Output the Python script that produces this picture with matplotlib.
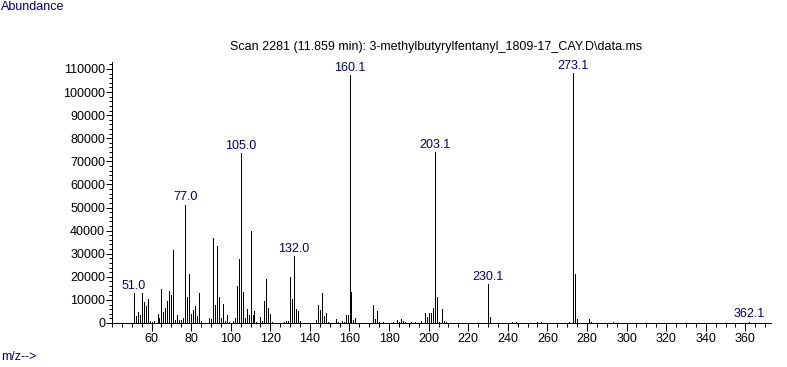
import matplotlib
matplotlib.use('Agg')
import matplotlib.pyplot as plt
from matplotlib.ticker import MultipleLocator

# m/z values of the spectrum lines and their abundance
MZ = [51.0, 52, 53, 54, 55, 56, 57, 58, 59, 60, 61, 63, 64, 65, 66, 67, 68, 69, 70, 71,
      72, 73, 74, 75, 76, 77.0, 78, 79, 80, 81, 82, 83, 84, 85,
      89, 90, 91, 92, 93, 94, 95, 96, 97, 98, 99, 101, 102, 103, 104, 105.0,
      106, 107, 108, 109, 110, 111, 112, 113, 115, 116, 117, 118, 119, 120, 121,
      127, 128, 129, 130, 131, 132.0, 133, 134, 135,
      143, 144, 145, 146, 147, 148, 149, 153, 154, 156, 157, 158, 159, 160.1,
      161, 162, 163, 172, 173, 174, 175, 177, 182, 184, 185, 186, 187, 188,
      191, 193, 196, 198, 199, 200, 201, 202, 203.1, 204, 205, 207, 208, 209,
      230.1, 231, 242, 244, 255, 257, 271, 273.1, 274, 275, 281, 282, 293, 362.1]
ABUND = [13000, 3200, 4900, 3600, 13000, 9100, 7500, 10500, 900, 500, 1000, 4000, 2300, 14900, 4900, 6600, 9700, 14000, 12300, 31700,
         1400, 3600, 1400, 1400, 2300, 51200, 11400, 21300, 4000, 5800, 7500, 2900, 13100, 900,
         2300, 1900, 37000, 7900, 33500, 11400, 2300, 8400, 1000, 3600, 500, 900, 2200, 16000, 27700, 73600,
         13400, 2100, 6100, 3500, 39800, 3500, 5200, 600, 2600, 900, 9600, 19000, 6600, 4000, 500,
         500, 900, 900, 20000, 10400, 29000, 6000, 5200, 900,
         1300, 7800, 5600, 13100, 3000, 4300, 400, 1600, 400, 900, 400, 3500, 3500, 107400,
         13400, 1500, 2300, 7800, 1800, 5200, 400, 400, 400, 1300, 400, 1700, 900, 400,
         400, 400, 900, 4300, 2700, 4300, 4300, 6500, 74000, 11300, 400, 6100, 900, 400,
         16900, 2600, 400, 400, 400, 400, 400, 108300, 21300, 1700, 1700, 400, 400, 560]

LABELED = [51.0, 77.0, 105.0, 132.0, 160.1, 203.1, 230.1, 273.1, 362.1]

TITLE = "Scan 2281 (11.859 min): 3-methylbutyrylfentanyl_1809-17_CAY.D\\data.ms"
NAVY = '#000080'

plt.rcParams['font.family'] = ['Liberation Sans', 'DejaVu Sans']
plt.rcParams['font.size'] = 9

fig = plt.figure(figsize=(7.87, 3.67), dpi=100)
ax = fig.add_axes([0.1423, 0.1199, 0.8374, 0.711])

# 1 px 的線條
ax.vlines(MZ, 0, ABUND, colors='black', linewidth=0.72, antialiased=False)

abund_of = dict(zip(MZ, ABUND))
for m in LABELED:
    ax.annotate(f"{m:.1f}", (m, abund_of[m]), xytext=(0, 1), textcoords='offset points',
                ha='center', va='bottom', color=NAVY, fontsize=9)

ax.set_xlim(40, 373)
ax.set_ylim(0, 113000)

ax.xaxis.set_major_locator(MultipleLocator(20))
ax.xaxis.set_minor_locator(MultipleLocator(5))
ax.yaxis.set_major_locator(MultipleLocator(10000))
ax.yaxis.set_minor_locator(MultipleLocator(2000))
ax.set_xticks(range(60, 361, 20))
ax.tick_params(axis='x', which='major', length=6, width=0.72, pad=1, labelsize=9)
ax.tick_params(axis='x', which='minor', length=3, width=0.72)
ax.tick_params(axis='y', which='major', length=4, width=0.72, pad=1, labelsize=9)
ax.tick_params(axis='y', which='minor', length=2, width=0.72)

for s in ['top', 'right']:
    ax.spines[s].set_visible(False)
for s in ['left', 'bottom']:
    ax.spines[s].set_linewidth(0.72)

fig.text(0.0015, 0.998, "Abundance", ha='left', va='top', color=NAVY, fontsize=9)
fig.text(0.0015, 0.027, "m/z-->", ha='left', va='center', color=NAVY, fontsize=9)
fig.text(0.5547, 0.872, TITLE, ha='center', va='center', color='black', fontsize=9)

plt.savefig('out.png', dpi=100)
plt.close()
